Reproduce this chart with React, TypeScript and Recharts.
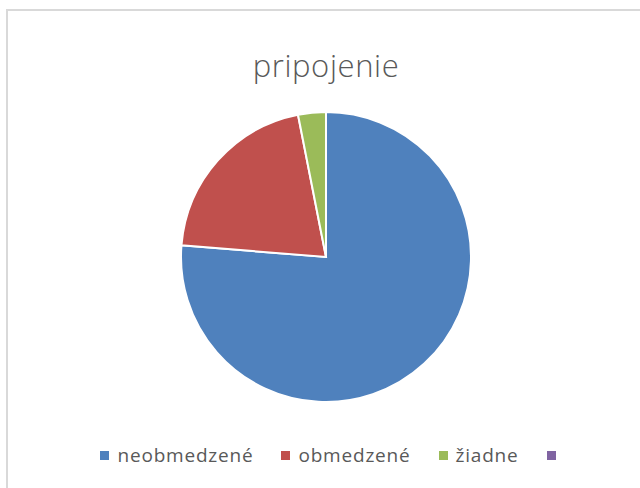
import React from 'react';
import { PieChart, Pie, Cell, Legend } from 'recharts';

const categories = ['neobmedzené', 'obmedzené', 'žiadne', ''];
const counts = [74, 20, 3, 0];
const colors = ['#4f81bd', '#c0504d', '#9bbb59', '#8064a2'];

const data = categories.map((name, i) => ({ name, value: counts[i] }));

const FONT = '"Open Sans", "Noto Sans", sans-serif';

// legend drawn as a centred row: small square, then the label
function LegendRow(props: any) {
    const items = [...(props.payload || [])].sort(
        (a: any, b: any) => categories.indexOf(a.value) - categories.indexOf(b.value)
    );
    return (
        <div
            style={{
                display: 'flex',
                justifyContent: 'center',
                alignItems: 'center',
                width: 656,
                fontFamily: FONT,
                fontSize: 19,
                color: '#595959',
            }}
        >
            {items.map((entry: any, i: number) => (
                <div
                    key={i}
                    style={{
                        display: 'flex',
                        alignItems: 'center',
                        marginRight: i < items.length - 1 ? 28 : 0,
                    }}
                >
                    <span
                        style={{
                            display: 'inline-block',
                            width: 9,
                            height: 9,
                            background: entry.color,
                            marginRight: entry.value ? 8 : 0,
                        }}
                    />
                    <span style={{ letterSpacing: 0.8 }}>{entry.value}</span>
                </div>
            ))}
        </div>
    );
}

export default function App() {
    return (
        <div
            style={{
                position: 'fixed',
                left: 0,
                top: 0,
                width: 640,
                height: 488,
                background: '#ffffff',
                overflow: 'hidden',
            }}
        >
            <div
                style={{
                    position: 'absolute',
                    left: 6,
                    top: 9,
                    width: 700,
                    height: 600,
                    border: '2px solid #d9d9d9',
                }}
            />
            <div
                style={{
                    position: 'absolute',
                    left: 0,
                    top: 45,
                    width: 652,
                    textAlign: 'center',
                    fontFamily: FONT,
                    fontSize: 31,
                    fontWeight: 300,
                    letterSpacing: 0.6,
                    color: '#595959',
                    lineHeight: '40px',
                }}
            >
                pripojenie
            </div>
            <div style={{ position: 'absolute', left: 0, top: 0 }}>
                <PieChart width={640} height={488} margin={{ top: 0, right: 0, bottom: 0, left: 0 }}>
                    <Pie
                        data={data}
                        dataKey="value"
                        nameKey="name"
                        cx={326}
                        cy={257}
                        outerRadius={145}
                        startAngle={90}
                        endAngle={-270}
                        stroke="#ffffff"
                        strokeWidth={2}
                        isAnimationActive={false}
                    >
                        {data.map((d, i) => (
                            <Cell key={d.name + i} fill={colors[i]} />
                        ))}
                    </Pie>
                    <Legend
                        content={LegendRow}
                        wrapperStyle={{ position: 'absolute', left: 0, top: 442, width: 656 }}
                    />
                </PieChart>
            </div>
        </div>
    );
}
